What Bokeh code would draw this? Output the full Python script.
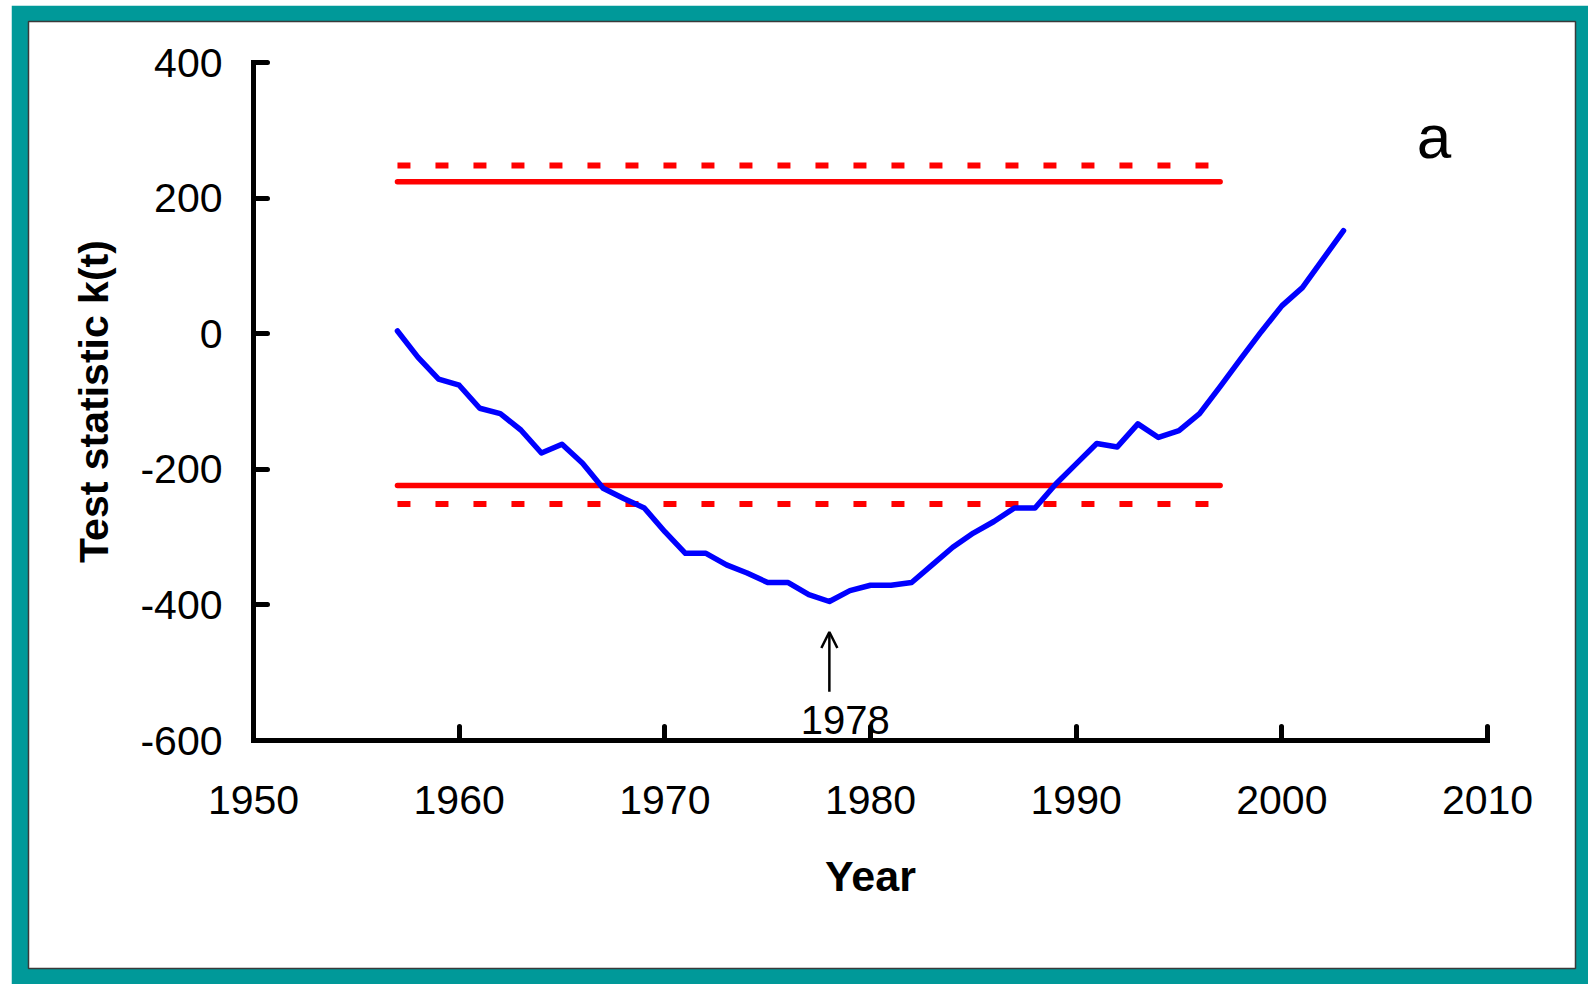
from bokeh.plotting import figure
from bokeh.models import LinearAxis, FixedTicker, Range1d, Label, Arrow, OpenHead
from bokeh.embed import file_html
from bokeh.resources import INLINE

# ---- data ----
years = list(range(1957, 2004))
kt = [4, -35, -67, -76, -110, -118, -142, -176, -163, -191,
      -228, -243, -257, -292, -324, -324, -341, -353, -367, -367,
      -385, -395, -379, -371, -371, -367, -341, -315, -294, -277,
      -257, -257, -222, -192, -162, -167, -133, -153, -143, -118,
      -78, -37, 3, 41, 68, 110, 152]
thr_years = [1957, 1997]
thr95_upper = [224, 224]
thr95_lower = [-224, -224]
thr99_upper = [248, 248]
thr99_lower = [-251, -251]
x_ticks = [1950, 1960, 1970, 1980, 1990, 2000, 2010]
y_ticks = [-600, -400, -200, 0, 200, 400]
change_year = years[kt.index(min(kt))]   # 1978
arrow_y = [-528, -440]
change_label_y = -570
panel_label = "a"
panel_label_pos = (2007.4, 291)

W, H = 1577, 979
TEAL = "#009999"
FONT = "Liberation Sans"

p = figure(width=W, height=H, margin=(5, 0, 0, 11),
           output_backend="svg", toolbar_location=None,
           x_axis_location=None, y_axis_location=None,
           x_range=Range1d(1939.06, 2014.279), y_range=Range1d(-936.283, 460.472),
           min_border_left=17, min_border_right=13, min_border_top=16, min_border_bottom=16)
p.border_fill_color = TEAL
p.background_fill_color = "white"
p.outline_line_color = "#3a3a3a"
p.outline_line_width = 1.5
p.xgrid.visible = False
p.ygrid.visible = False

def style_axis(ax, ticks):
    ax.axis_line_width = 5
    ax.axis_line_color = "black"
    ax.axis_line_cap = "square"
    ax.major_tick_line_width = 5
    ax.major_tick_line_color = "black"
    ax.major_tick_line_cap = "round"
    ax.major_tick_in = 14
    ax.major_tick_out = 0
    ax.minor_tick_line_color = None
    ax.major_label_overrides = {t: str(t) for t in ticks}
    ax.major_label_text_font = FONT
    ax.major_label_text_font_size = "41px"
    ax.major_label_text_color = "black"
    ax.axis_label_text_font = FONT
    ax.axis_label_text_font_style = "bold"
    ax.axis_label_text_color = "black"

yaxis = LinearAxis(fixed_location=1950, bounds=(-600, 400),
                   ticker=FixedTicker(ticks=y_ticks), axis_label="Test statistic k(t)")
style_axis(yaxis, y_ticks)
yaxis.axis_label_text_font_size = "41px"
yaxis.major_label_standoff = 31
yaxis.axis_label_standoff = 20

xaxis = LinearAxis(fixed_location=-600, bounds=(1950, 2010),
                   ticker=FixedTicker(ticks=x_ticks), axis_label="Year")
style_axis(xaxis, x_ticks)
xaxis.axis_label_text_font_size = "43px"
xaxis.major_label_standoff = 45
xaxis.axis_label_standoff = 35

p.add_layout(yaxis, "left")
p.add_layout(xaxis, "below")

# thresholds
p.line(thr_years, thr95_upper, line_color="#ff0000", line_width=5.5, line_cap="round")
p.line(thr_years, thr95_lower, line_color="#ff0000", line_width=5.5, line_cap="round")
p.line(thr_years, thr99_upper, line_color="#ff0000", line_width=6, line_dash="13 25")
p.line(thr_years, thr99_lower, line_color="#ff0000", line_width=6, line_dash="13 25")

# test statistic
p.line(years, kt, line_color="#0000ff", line_width=5.5, line_join="round", line_cap="round")

# annotations
p.add_layout(Arrow(x_start=change_year, y_start=arrow_y[0], x_end=change_year, y_end=arrow_y[1],
                   line_width=2.5, line_color="black",
                   end=OpenHead(size=16, line_width=2.5, line_color="black")))
p.add_layout(Label(x=change_year, y=change_label_y, x_offset=16, text=str(change_year),
                   text_font=FONT, text_font_size="40px", text_color="black",
                   text_align="center", text_baseline="middle"))
p.add_layout(Label(x=panel_label_pos[0], y=panel_label_pos[1], text=panel_label,
                   text_font=FONT, text_font_size="62px", text_color="black",
                   text_align="center", text_baseline="middle"))

open("out.html", "w").write(file_html(p, INLINE))
